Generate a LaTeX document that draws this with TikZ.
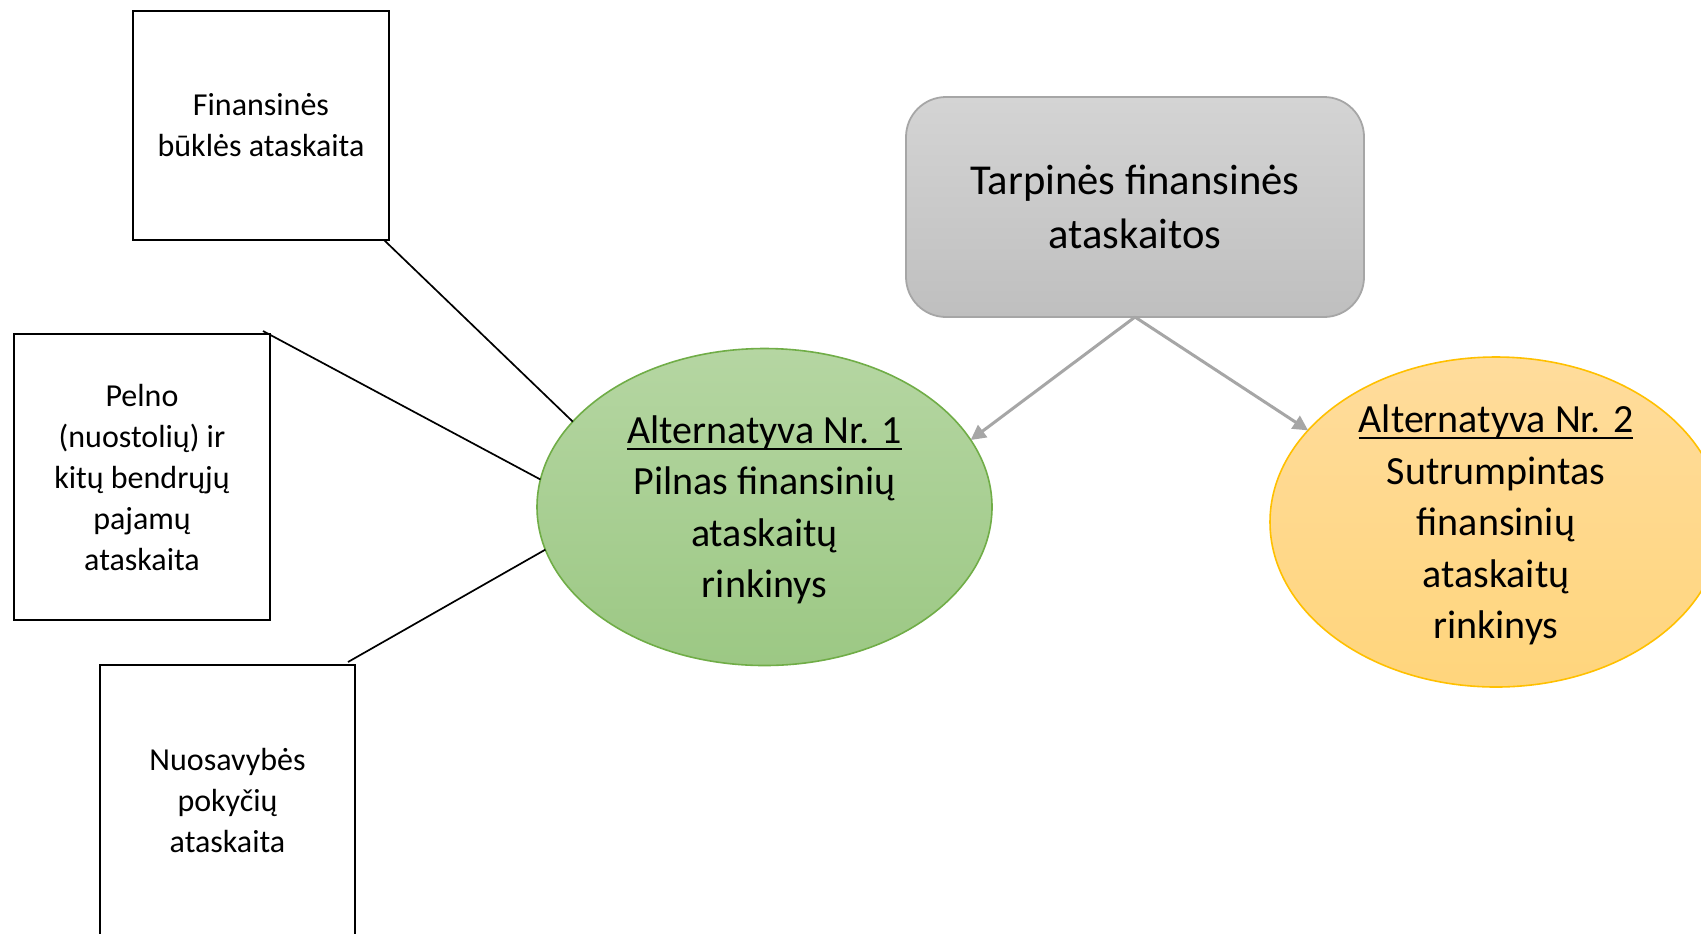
\documentclass[tikz,border=0pt]{standalone}
\usepackage{fontspec}
\setmainfont{Carlito}
\usetikzlibrary{arrows.meta,calc,shapes.geometric}
\definecolor{greytop}{HTML}{D4D4D4}
\definecolor{greybot}{HTML}{BFBFBF}
\definecolor{greyline}{HTML}{A6A6A6}
\definecolor{greentop}{HTML}{B5D6A2}
\definecolor{greenbot}{HTML}{9CC884}
\definecolor{greenline}{HTML}{70AD47}
\definecolor{yeltop}{HTML}{FFDC9C}
\definecolor{yelbot}{HTML}{FFD57C}
\definecolor{yelline}{HTML}{FFC000}
\newcommand\ulText[1]{\setbox0\hbox{#1}\rlap{\rule[-3pt]{\wd0}{0.9pt}}\box0}
\tikzset{
  sbox/.style={draw=black, line width=1pt, fill=white, rectangle, outer sep=0pt, inner sep=0pt},
  stxt/.style={align=center, font=\fontsize{16}{20.5}\selectfont},
  btxt/.style={align=center, font=\fontsize{20}{25.7}\selectfont, yshift=-1.5pt},
  gtxt/.style={align=center, font=\fontsize{21.3}{27}\selectfont},
  link/.style={draw=black, line width=0.85pt},
  garrow/.style={draw=greyline, line width=1.5pt, -{Triangle[length=7.5pt,width=7.5pt]}},
}
\begin{document}
\begin{tikzpicture}[x=0.5pt,y=-0.5pt]
\useasboundingbox (0,0) rectangle (1701,933);
\clip (0,0) rectangle (1701,933);
\fill[white] (0,0) rectangle (1701,933);
% left boxes
\node[sbox, minimum width=128pt, minimum height=114.5pt] (b1) at (261,125.5) {};
\node[stxt] (t1) at (b1.center) {Finansinės\\būklės ataskaita};
\node[sbox, minimum width=128pt, minimum height=143pt] (b2) at (142,477) {};
\node[stxt] (t2) at (b2.center) {Pelno\\(nuostolių) ir\\kitų bendrųjų\\pajamų\\ataskaita};
\node[sbox, minimum width=127.5pt, minimum height=135pt] (b3) at (227.5,800) {};
\node[stxt] (t3) at (b3.center) {Nuosavybės\\pokyčių\\ataskaita};
% grey box
\node[draw=greyline, line width=0.9pt, rounded corners=20pt, top color=greytop, bottom color=greybot,
      minimum width=229pt, minimum height=110pt, outer sep=0pt] (g) at (1135,207) {};
\node[gtxt] (gt) at (g.center) {Tarpinės finansinės\\ataskaitos};
% ellipses
\node[ellipse, draw=greenline, line width=0.8pt, top color=greentop, bottom color=greenbot,
      minimum width=227.5pt, minimum height=158.5pt, inner sep=0pt, outer sep=0pt] (e1) at (764.5,507) {};
\node[btxt] (e1t) at (e1.center) {\ulText{Alternatyva Nr. 1}\\Pilnas finansinių\\ataskaitų\\rinkinys};
\node[ellipse, draw=yelline, line width=0.8pt, top color=yeltop, bottom color=yelbot,
      minimum width=226pt, minimum height=165pt, inner sep=0pt, outer sep=0pt] (e2) at (1496,522) {};
\node[btxt] (e2t) at (e2.center) {\ulText{Alternatyva Nr. 2}\\Sutrumpintas\\finansinių\\ataskaitų\\rinkinys};
% connectors
\draw[link] ($(b1.south east)+(-5,0)$) -- (e1.156);
\draw[link] ($(b2.north east)+(-7,-3)$) -- (e1.173);
\draw[link] ($(b3.north east)+(-7,-3)$) -- (e1.191.5);
\draw[garrow] (g.south) -- (e1.18.6);
\draw[garrow] (g.south) -- (e2.154);
\end{tikzpicture}
\end{document}
